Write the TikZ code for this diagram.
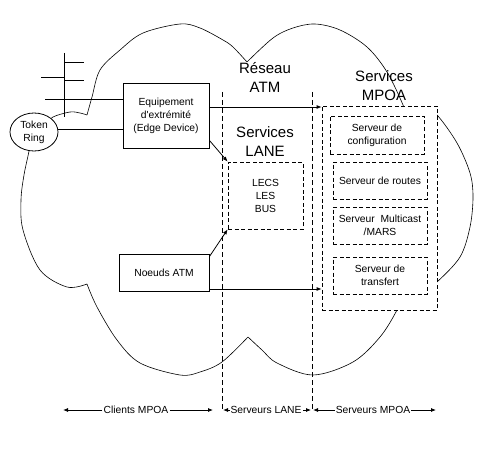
\documentclass[tikz,border=0pt]{standalone}
\usepackage{fontspec}
\setmainfont{Liberation Sans}
\usetikzlibrary{shapes.geometric,arrows.meta,calc}
\begin{document}
\begin{tikzpicture}[x=1pt,y=-1pt,
  ln/.style={line width=0.8pt},
  cloudline/.style={line width=0.6pt},
  small/.style={font=\fontsize{10.3}{13}\selectfont},
  big/.style={font=\fontsize{15}{19}\selectfont, align=center},
  solidbox/.style={draw, ln, fill=white, align=center, small, inner sep=0pt},
  dashbox/.style={draw, ln, dash pattern=on 4pt off 2.5pt, fill=white, align=center, small, inner sep=0pt},
  dline/.style={ln, dash pattern=on 5pt off 3pt},
  arr/.style={ln, -{Latex[length=5pt,width=4pt]}},
]
\useasboundingbox (0,0) rectangle (494,449);
\fill[white] (0,0) rectangle (494,449);

% cloud
\draw[cloudline] plot[smooth, tension=0.55] coordinates {(30,140)(29,151)(24,175)(21,200)(23,230)(40,270)(67,287)(87,284)}
  plot[smooth, tension=0.55] coordinates {(87,284)(97,307)(117,340)(140,363)(180,375)(200,372)(222,362)(248,337)}
  plot[smooth, tension=0.55] coordinates {(248,337)(262,350)(277,363)(313,375)(353,362)(380,337)(397,310)(405,290)}
  plot[smooth, tension=0.55] coordinates {(425,110)(437,115)(457,143)(470,173)(473,197)(470,227)(460,257)(437,282)(425,290)}
  plot[smooth, tension=0.55] coordinates {(405,115)(403,105)(387,72)(367,47)(340,30)(315,24)(293,28)(273,38)(247,62)}
  plot[smooth, tension=0.55] coordinates {(247,62)(233,47)(223,40)(200,28)(180,24)(143,33)(120,50)(100,70)(92,97)(87,115)}
  plot[smooth, tension=0.55] coordinates {(87,115)(80,113)(70,112)(53,117)(45,125)};

% vertical dashed separators
\coordinate (v1t) at (222,92);
\coordinate (v1b) at (222,410);
\coordinate (v2t) at (312,92);
\coordinate (v2b) at (312,410);
\draw[dline] (v1t) -- (v1b);
\draw[dline] (v2t) -- (v2b);

% bus lines
\coordinate (bt) at (64,53);
\coordinate (bb) at (64,117);
\draw[ln] (bt) -- (bb);
\draw[ln] (64,62) -- (84,62);
\draw[ln] (41,77) -- (64,77);
\draw[ln] (64,80) -- (84,80);

% nodes
\node[draw, ln, ellipse, fill=white, minimum width=48pt, minimum height=38pt, inner sep=0pt, align=center, small] (tr) at (34,132) {Token\\Ring};
\node[solidbox, minimum width=86pt, minimum height=65pt] (edge) at (166,115.5) {Equipement\\d\textquotesingle extrémité\\(Edge Device)};
\node[solidbox, minimum width=90pt, minimum height=37pt] (noeuds) at (164,272.5) {Noeuds ATM};
\node[dashbox, minimum width=75pt, minimum height=67pt] (lane) at (265.5,195.5) {LECS\\LES\\BUS};
\node[dashbox, minimum width=115pt, minimum height=204pt] (mpoa) at (379.5,208) {};
\node[dashbox, minimum width=94pt, minimum height=38pt] (cfg) at (377,135) {Serveur de\\configuration};
\node[dashbox, minimum width=94pt, minimum height=37pt] (rts) at (380,180.5) {Serveur de routes};
\node[dashbox, minimum width=94pt, minimum height=37pt] (mars) at (380,225.5) {Serveur~~Multicast\\/MARS};
\node[dashbox, minimum width=94pt, minimum height=37pt] (trf) at (380,275.5) {Serveur de\\transfert};

% big labels
\node[big] (reseau) at (265,77) {Réseau\\ATM};
\node[big] (slane) at (265,141.5) {Services\\LANE};
\node[big] (smpoa) at (384,85.5) {Services\\MPOA};

% LAN connections to edge device
\coordinate (lanin) at (45,99);
\draw[ln] (lanin) -- (lanin -| edge.west);
\coordinate (e2) at ([yshift=-13.5pt]edge.west);
\draw[ln] (tr.east |- e2) -- (e2);

% connectors
\coordinate (e1) at ([yshift=8.5pt]edge.east);
\draw[arr] (e1) -- (e1 -| mpoa.west);
\draw[arr] ([yshift=8pt]edge.south east) -- (lane.north west);
\draw[arr] ([yshift=-3pt]noeuds.north east) -- (lane.south west);
\coordinate (n1) at ([yshift=-16.5pt]noeuds.east);
\draw[arr] (n1) -- (n1 -| mpoa.west);

% bottom scale
\coordinate (c1) at (63,410);
\coordinate (c2) at (213,410);
\node[small, inner sep=1pt] (clt) at (136,410) {Clients MPOA};
\draw[arr] (clt.west) -- (c1);
\draw[arr] (clt.east) -- (c2);

\node[small, inner sep=0pt] (slt) at (266,410) {Serveurs LANE};
\coordinate (s1) at (223,410);
\coordinate (s2) at (311,410);
\draw[arr] (230,410) -- (s1);
\draw[arr] (303,410) -- (s2);

\coordinate (m1) at (313,410);
\coordinate (m2) at (436,410);
\node[small, inner sep=1pt] (smt) at (373,410) {Serveurs MPOA};
\draw[arr] (smt.west) -- (m1);
\draw[arr] (smt.east) -- (m2);
\end{tikzpicture}
\end{document}
